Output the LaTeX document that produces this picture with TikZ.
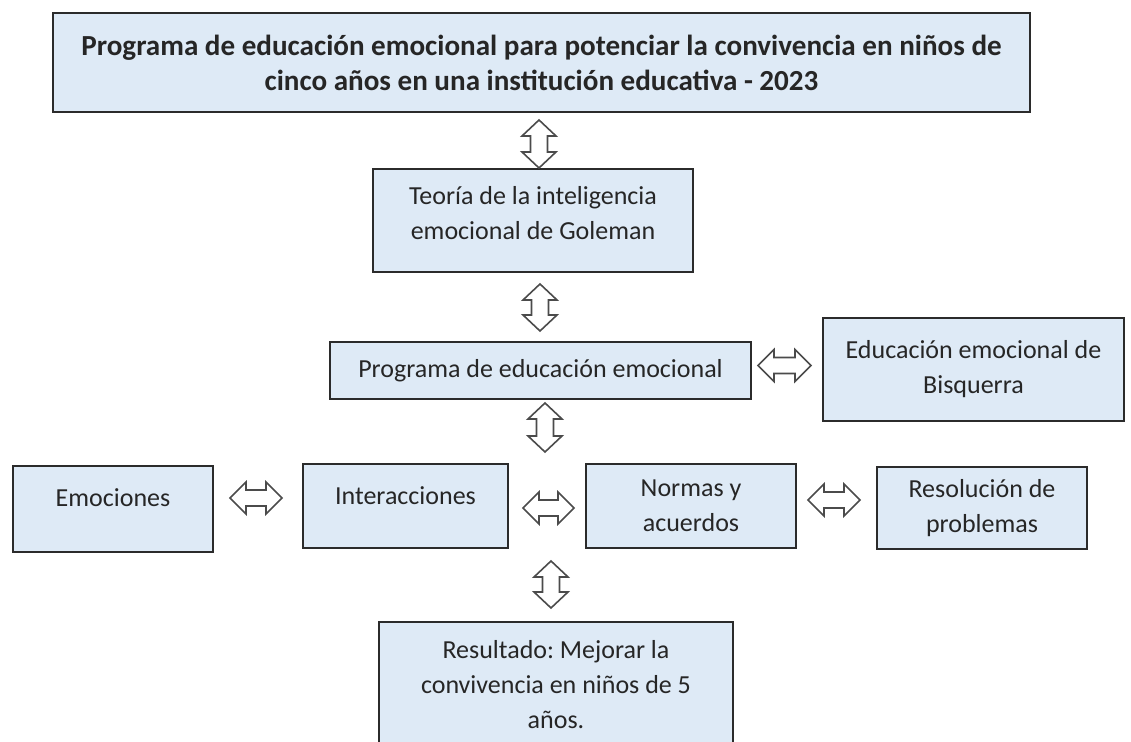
\documentclass[tikz,border=0pt]{standalone}
\usepackage{fontspec}
\setmainfont{Carlito}
\usetikzlibrary{calc}
\frenchspacing

\definecolor{cajaazul}{HTML}{DEEAF6}
\definecolor{borde}{HTML}{2B2B2B}
\definecolor{texto}{HTML}{262626}

\tikzset{
  caja/.style={draw=borde, line width=1pt, fill=cajaazul, text=texto,
    align=center, inner sep=0pt, font=\fontsize{13}{17.5}\selectfont},
  hflecha/.style={draw=borde!85, line width=0.8pt, fill=white,
    to path={let \p1=(\tikztostart), \p2=(\tikztotarget) in
      (\x1,\y1) -- (\x1+8pt,\y1+8pt) -- (\x1+8pt,\y1+4pt) -- (\x2-8pt,\y1+4pt)
      -- (\x2-8pt,\y1+8pt) -- (\x2,\y1) -- (\x2-8pt,\y1-8pt) -- (\x2-8pt,\y1-4pt)
      -- (\x1+8pt,\y1-4pt) -- (\x1+8pt,\y1-8pt) -- cycle}},
  vflecha/.style={draw=borde!85, line width=0.8pt, fill=white,
    to path={let \p1=(\tikztostart), \p2=(\tikztotarget) in
      (\x1,\y1) -- (\x1+8.5pt,\y1-8pt) -- (\x1+4.25pt,\y1-8pt) -- (\x1+4.25pt,\y2+8pt)
      -- (\x1+8.5pt,\y2+8pt) -- (\x1,\y2) -- (\x1-8.5pt,\y2+8pt) -- (\x1-4.25pt,\y2+8pt)
      -- (\x1-4.25pt,\y1-8pt) -- (\x1-8.5pt,\y1-8pt) -- cycle}}
}

\begin{document}
\begin{tikzpicture}[
        x=0.5pt,
        y=-0.5pt]

\useasboundingbox (0,0) rectangle (1131,742);
\clip (0,0) rectangle (1131,742);

%Cajas
\node[caja, minimum width=488.5pt, minimum height=49.5pt,
      font=\fontsize{14.55}{17.5}\selectfont\bfseries] (titulo) at (541.5,62.5)
  {Programa de educación emocional para potenciar la convivencia en niños de\\
   cinco años en una institución educativa - 2023};
\node[caja, minimum width=160pt, minimum height=51.5pt, text depth=8pt] (teoria) at (533,220.5)
  {Teoría de la inteligencia\\emocional de Goleman};
\node[caja, minimum width=210.5pt, minimum height=28.5pt] (programa) at (540.5,370.5)
  {Programa de educación emocional};
\node[caja, minimum width=150.5pt, minimum height=51.5pt] (bisquerra) at (973.5,369.5)
  {Educación emocional de\\Bisquerra};
\node[caja, minimum width=100pt, minimum height=43pt, text depth=11pt] (emociones) at (113,509)
  {Emociones};
\node[caja, minimum width=102.5pt, minimum height=42pt, text depth=10pt] (interacciones) at (405.5,506)
  {Interacciones};
\node[caja, minimum width=105pt, minimum height=42pt] (normas) at (691,506)
  {Normas y\\acuerdos};
\node[caja, minimum width=105pt, minimum height=41pt] (resolucion) at (982,508)
  {Resolución de\\problemas};
\node[caja, minimum width=177pt, minimum height=68pt, text depth=6pt] (resultado) at (556,690)
  {Resultado: Mejorar la\\convivencia en niños de 5\\años.};

%Ejes de las flechas verticales
\coordinate (eje1) at (539,0);
\coordinate (eje2) at (540,0);
\coordinate (cruce) at (545,452);
\coordinate (salida) at (551,561);

%Flechas verticales
\draw[vflecha] ($(titulo.south -| eje1)+(0,7)$) to (teoria.north -| eje1);
\draw[vflecha] ($(teoria.south -| eje2)+(0,11)$) to ($(programa.north -| eje2)+(0,-10)$);
\draw[vflecha] ($(programa.south -| cruce)+(0,3)$) to (cruce);
\draw[vflecha] (salida) to ($(resultado.north -| salida)+(0,-13)$);

%Flechas horizontales
\draw[hflecha] ($(programa.east)+(6,-5)$) to ($(bisquerra.west |- programa.east)+(-11,-5)$);
\draw[hflecha] ($(emociones.east)+(16,-11)$) to ($(interacciones.west |- emociones.east)+(-20,-11)$);
\draw[hflecha] ($(interacciones.east)+(14,2)$) to ($(normas.west |- interacciones.east)+(-11,2)$);
\draw[hflecha] ($(normas.east)+(11,-6)$) to ($(resolucion.west |- normas.east)+(-16,-6)$);

\end{tikzpicture}
\end{document}
